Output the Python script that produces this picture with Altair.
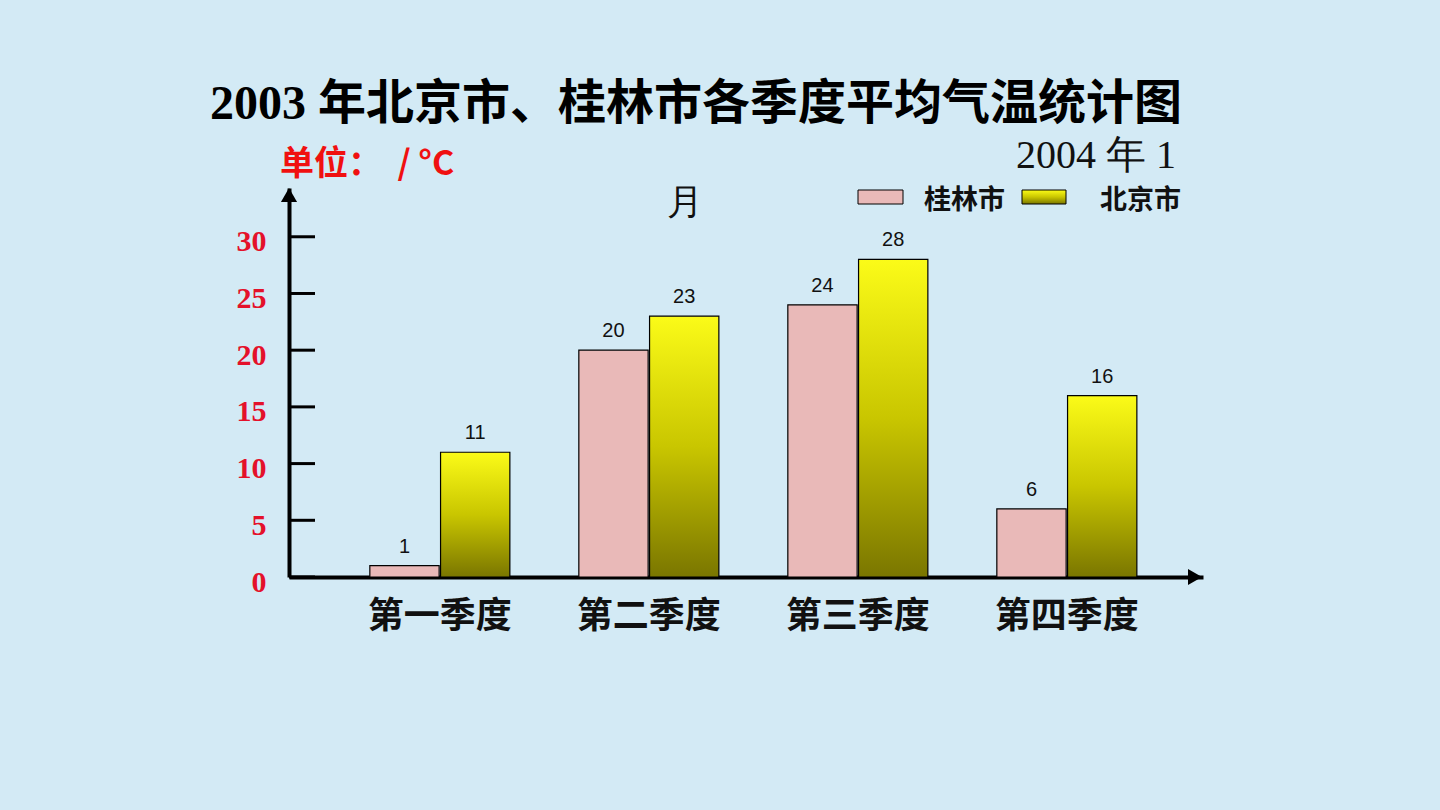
import altair as alt
import pandas as pd

quarters = ["第一季度", "第二季度", "第三季度", "第四季度"]
series = ["桂林市", "北京市"]
guilin = [1, 20, 24, 6]
beijing = [11, 23, 28, 16]
y_ticks = [0, 5, 10, 15, 20, 25, 30]

rows = []
for q, g, b in zip(quarters, guilin, beijing):
    rows.append({"quarter": q, "city": series[0], "temp": g})
    rows.append({"quarter": q, "city": series[1], "temp": b})
df = pd.DataFrame(rows)
ticks_df = pd.DataFrame({"temp": y_ticks})

# plot area in page pixels
L, T, R, B = 289, 188, 1203, 577
W, H = R - L, B - T

def px(x):
    return x - L

def py(y):
    return y - T

x_scale = alt.Scale(domain=quarters, paddingInner=0.33, paddingOuter=0.3516, align=0.55)
xo_scale = alt.Scale(domain=series, paddingInner=0.02)
y_scale = alt.Scale(domain=[0, 34.3], nice=False, zero=True)

x_axis = alt.Axis(ticks=False, domainWidth=4, domainColor="black", labelFont="Noto Sans CJK SC",
                  labelFontWeight="bold", labelFontSize=36, labelColor="#111111", labelPadding=22,
                  labelAngle=0, title=None, grid=False)
y_axis = alt.Axis(values=y_ticks, ticks=False, domainWidth=4, domainColor="black",
                  labelColor="#e4112a", labelFont="Liberation Serif", labelFontWeight="bold",
                  labelFontSize=30, labelPadding=23, labelBaseline="top", labelOffset=-10,
                  grid=False, title=None)

X = alt.X("quarter:N", scale=x_scale, axis=x_axis, sort=quarters)
XO = alt.XOffset("city:N", scale=xo_scale, sort=series)
Y = alt.Y("temp:Q", scale=y_scale, axis=y_axis)

tick_rules = alt.Chart(ticks_df).mark_rule(color="black", strokeWidth=3).encode(
    y=Y, x=alt.value(0), x2=alt.value(26)
)

pink_bars = alt.Chart(df).transform_filter(alt.datum.city == series[0]).mark_bar(
    color="#e9b9b8", stroke="black", strokeWidth=1.2
).encode(x=X, xOffset=XO, y=Y)

yellow_grad = alt.Gradient(
    gradient="linear",
    stops=[alt.GradientStop(color="#fbfb18", offset=0),
           alt.GradientStop(color="#c9c600", offset=0.5),
           alt.GradientStop(color="#7a7600", offset=1)],
    x1=0, x2=0, y1=0, y2=1,
)
yellow_bars = alt.Chart(df).transform_filter(alt.datum.city == series[1]).mark_bar(
    color=yellow_grad, stroke="black", strokeWidth=1.2
).encode(x=X, xOffset=XO, y=Y)

value_labels = alt.Chart(df).mark_text(
    font="Liberation Sans", fontSize=20, color="#111111", baseline="bottom", dy=-9
).encode(x=X, xOffset=XO, y=Y, text="temp:Q")

arrow_y = alt.Chart(pd.DataFrame({"a": [0]})).mark_point(
    shape="triangle-up", filled=True, color="black", size=260, opacity=1
).encode(x=alt.value(0), y=alt.value(7))
arrow_x = alt.Chart(pd.DataFrame({"a": [0]})).mark_point(
    shape="triangle-right", filled=True, color="black", size=260, opacity=1
).encode(x=alt.value(px(1195)), y=alt.value(py(577)))

one = pd.DataFrame({"a": [0]})

def label(text, x, y, **kw):
    return alt.Chart(one).mark_text(text=text, **kw).encode(x=alt.value(x), y=alt.value(y))

title_num = label("2003", px(306), py(119), font="Liberation Serif", fontWeight="bold",
                  fontSize=48, align="right", baseline="alphabetic", color="#000000")
title_cn = label("年北京市、桂林市各季度平均气温统计图", px(318), py(119), font="Noto Sans CJK SC",
                 fontWeight="bold", fontSize=48, align="left", baseline="alphabetic", color="#000000")
sub1 = label("2004 年 1", px(1176), py(168), font="Liberation Serif", fontSize=40,
             align="right", baseline="alphabetic", color="#111111")
sub2 = label("月", px(685), py(214), font="Liberation Serif", fontSize=36,
             align="center", baseline="alphabetic", color="#111111")
unit = label("单位：\u00a0\u00a0/\u00a0°C", px(280), py(175), font="Noto Sans CJK SC", fontWeight="bold",
             fontSize=34, align="left", baseline="alphabetic", color="#f01010")

leg_pink = alt.Chart(one).mark_rect(color="#e9b9b8", stroke="black", strokeWidth=1).encode(
    x=alt.value(px(858)), x2=alt.value(px(903)), y=alt.value(py(190)), y2=alt.value(py(204)))
leg_yellow = alt.Chart(one).mark_rect(color=yellow_grad, stroke="black", strokeWidth=1).encode(
    x=alt.value(px(1022)), x2=alt.value(px(1066)), y=alt.value(py(190)), y2=alt.value(py(204)))
leg_t1 = label(series[0], px(924), py(201), font="Noto Sans CJK SC", fontWeight="bold",
               fontSize=27, align="left", baseline="middle", color="#111111")
leg_t2 = label(series[1], px(1100), py(201), font="Noto Sans CJK SC", fontWeight="bold",
               fontSize=27, align="left", baseline="middle", color="#111111")

chart = alt.layer(
    pink_bars, yellow_bars, tick_rules, value_labels, arrow_y, arrow_x,
    title_num, title_cn, sub1, sub2, unit, leg_pink, leg_yellow, leg_t1, leg_t2,
).properties(
    width=W, height=H,
    autosize=alt.AutoSizeParams(type="none"),
    padding={"left": L, "top": T, "right": 1440 - R, "bottom": 810 - B},
    background="#d3eaf5",
).configure_view(stroke=None)

chart.save("out.html", embed_options={"renderer": "svg", "actions": False})
